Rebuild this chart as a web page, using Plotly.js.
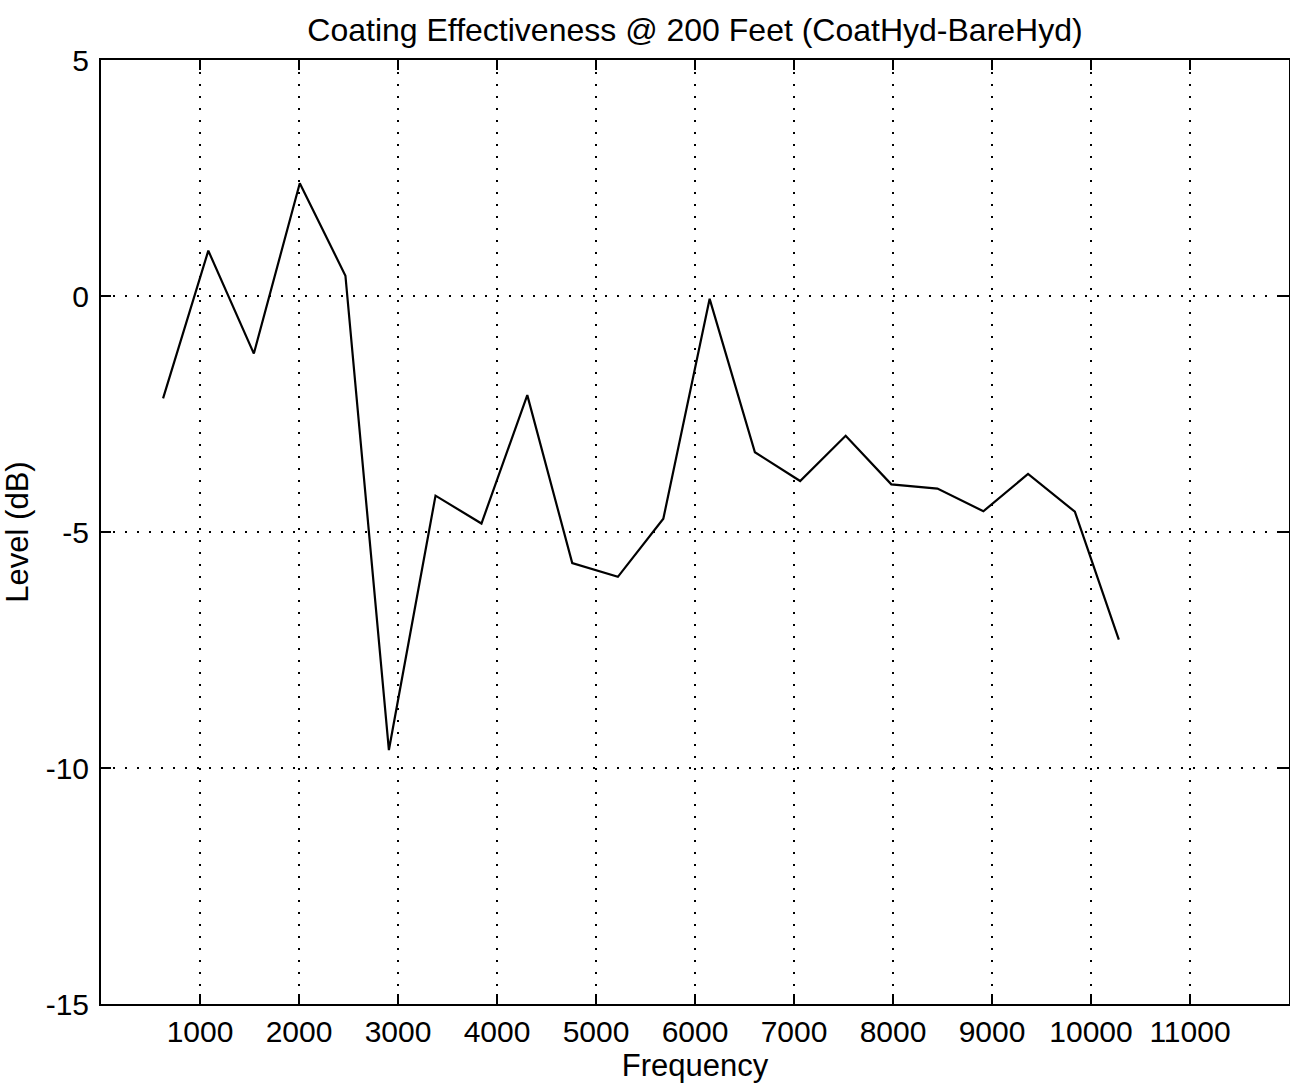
<!DOCTYPE html>
<html>
<head>
<meta charset="utf-8">
<script src="https://cdn.plot.ly/plotly-3.0.1.min.js"></script>
<style>
  html, body { margin: 0; padding: 0; background: #fff; }
  #chart { width: 1290px; height: 1091px; }
</style>
</head>
<body>
<div id="chart"></div>
<script>
// Frequency (Hz) of each sample
const frequency = [627, 1084, 1544, 2008, 2469, 2908, 3379, 3843, 4306, 4760, 5221,
                   5680, 6148, 6605, 7062, 7522, 7983, 8449, 8913, 9364, 9837, 10281];
// Level difference (dB), CoatHyd - BareHyd
const levelDb = [-2.17, 0.96, -1.22, 2.39, 0.43, -9.62, -4.23, -4.82, -2.10, -5.66, -5.95,
                 -4.72, -0.06, -3.31, -3.92, -2.96, -3.99, -4.08, -4.56, -3.77, -4.57, -7.28];

const xTickVals = [1000, 2000, 3000, 4000, 5000, 6000, 7000, 8000, 9000, 10000, 11000];
const xTickText = ['1000', '2000', '3000', '4000', '5000', '6000', '7000', '8000', '9000', '10000', '11000'];
const yTickVals = [-15, -10, -5, 0, 5];
const yTickText = ['-15', '-10', '-5', '0', '5'];

const fontFam = '"Liberation Sans", Arial, Helvetica, sans-serif';

const trace = {
  x: frequency,
  y: levelDb,
  type: 'scatter',
  mode: 'lines',
  line: { color: '#000', width: 2.2 },
  hoverinfo: 'x+y'
};

const axisCommon = {
  showline: true,
  linecolor: '#000',
  linewidth: 2,
  mirror: 'ticks',
  ticks: 'inside',
  ticklen: 10,
  tickwidth: 2,
  tickcolor: '#000',
  showgrid: true,
  gridcolor: '#000',
  gridwidth: 1.5,
  griddash: '2px,10px',
  zeroline: false,
  tickfont: { family: fontFam, size: 30, color: '#000' }
};

const layout = {
  width: 1290,
  height: 1091,
  paper_bgcolor: '#fff',
  plot_bgcolor: '#fff',
  showlegend: false,
  margin: { l: 101, r: 1, t: 60, b: 87 },
  title: {
    text: 'Coating Effectiveness @ 200 Feet (CoatHyd-BareHyd)',
    font: { family: fontFam, size: 32, color: '#000' },
    x: 0.5, xanchor: 'center', xref: 'paper',
    y: 1 - 30 / 1091, yanchor: 'middle', yref: 'container'
  },
  xaxis: Object.assign({}, axisCommon, {
    range: [0, 12000],
    tickmode: 'array',
    tickvals: xTickVals,
    ticktext: xTickText,
    ticklabelstandoff: 0,
    title: { text: 'Frequency', font: { family: fontFam, size: 31, color: '#000' }, standoff: 4 }
  }),
  yaxis: Object.assign({}, axisCommon, {
    range: [-15, 5],
    tickmode: 'array',
    tickvals: yTickVals,
    ticktext: yTickText,
    ticklabelstandoff: 4,
    title: { text: 'Level (dB)', font: { family: fontFam, size: 31, color: '#000' }, standoff: 12 }
  })
};

Plotly.newPlot('chart', [trace], layout, { displayModeBar: false, staticPlot: true });
</script>
</body>
</html>
